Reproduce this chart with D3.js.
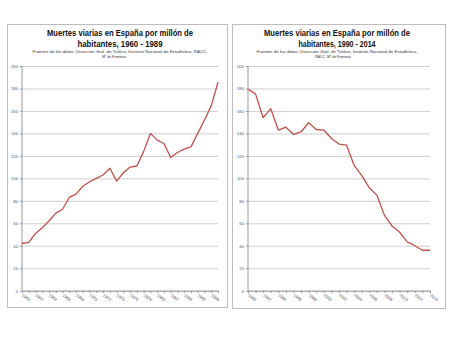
<!DOCTYPE html>
<html>
<head>
<meta charset="utf-8">
<script src="https://cdn.jsdelivr.net/npm/d3@7"></script>
<style>
  html, body { margin: 0; padding: 0; background: #fff; }
  svg { display: block; }
  text { font-family: "Liberation Sans", Arial, sans-serif; }
</style>
</head>
<body>
<svg id="chart" width="450" height="338"></svg>
<script>
// ---- data ----
const years1 = [1960,1961,1962,1963,1964,1965,1966,1967,1968,1969,1970,1971,1972,1973,1974,1975,1976,1977,1978,1979,1980,1981,1982,1983,1984,1985,1986,1987,1988,1989];
const deaths1 = [42,43,51,56,62,69,72.5,83,86,93,97,100,103,109,97.5,105,110,111,124,140,134,131,118.5,123,126,128,140,152,164.5,185.5];
const xLabels1 = ["1960","1962","1964","1966","1968","1970","1972","1974","1976","1978","1980","1982","1984","1986","1988"];

const years2 = [1990,1991,1992,1993,1994,1995,1996,1997,1998,1999,2000,2001,2002,2003,2004,2005,2006,2007,2008,2009,2010,2011,2012,2013,2014];
const deaths2 = [179.5,175,154,162,143,145.5,139,141.5,149.5,143.5,143,135.5,130.5,129.5,111.5,102.5,91.5,85,67,57.5,52,43.5,40,36,36];
const xLabels2 = ["1990","1992","1994","1996","1998","2000","2002","2004","2006","2008","2010","2012","2014"];

const yTicks = [0,20,40,60,80,100,120,140,160,180,200];

const titles1 = ["Muertes viarias en España por millón de", "habitantes, 1960 - 1989"];
const titles2 = ["Muertes viarias en España por millón de", "habitantes, 1990 - 2014"];
const sources1 = ["Fuentes de los datos:  Dirección Gral. de Tráfico, Instituto Nacional de Estadística, RACC,", "Mº de Fomento"];
const sources2 = ["Fuentes de los datos:  Dirección Gral. de Tráfico, Instituto Nacional de Estadística,", "RACC, Mº de Fomento"];

// ---- drawing ----
const svg = d3.select("#chart");

function drawPanel(cfg) {
  const g = svg.append("g");
  // panel border
  g.append("rect")
    .attr("x", cfg.box[0] + 0.5).attr("y", cfg.box[1] + 0.5)
    .attr("width", cfg.box[2]).attr("height", cfg.box[3])
    .attr("fill", "#fff").attr("stroke", "#bdbdbd").attr("stroke-width", 1);

  const x = d3.scalePoint().domain(cfg.years).range([cfg.x0, cfg.x1]);
  const y = d3.scaleLinear().domain([0, 200]).range([290.7, 66]);

  // titles
  cfg.titles.forEach((t, i) => {
    g.append("text")
      .attr("x", cfg.cx).attr("y", 36 + i * 10.5)
      .attr("text-anchor", "middle")
      .attr("font-size", "9.2px").attr("font-weight", "bold")
      .attr("fill", "#111")
      .attr("textLength", cfg.titleLen[i]).attr("lengthAdjust", "spacingAndGlyphs")
      .text(t);
  });
  cfg.sources.forEach((t, i) => {
    g.append("text")
      .attr("x", cfg.cx + (cfg.srcShift[i] || 0)).attr("y", 52.5 + i * 5.3)
      .attr("text-anchor", "middle")
      .attr("font-size", "4.3px")
      .attr("fill", "#333")
      .attr("textLength", cfg.srcLen[i]).attr("lengthAdjust", "spacingAndGlyphs")
      .text(t);
  });

  // gridlines
  const yAxis = d3.axisLeft(y).tickValues(yTicks).tickSize(-(cfg.x1 - cfg.x0)).tickPadding(4);
  const ya = g.append("g").attr("transform", `translate(${cfg.x0},0)`).call(yAxis);
  ya.select(".domain").remove();
  ya.selectAll(".tick line").attr("stroke", "#cfcfcf").attr("stroke-width", 1);
  ya.selectAll(".tick text").attr("font-size", "4.2px").attr("fill", "#555").attr("font-family", "Liberation Sans, Arial, sans-serif");
  // small outward ticks on y axis
  ya.selectAll(".tick").append("line").attr("x1", -2).attr("x2", 0).attr("stroke", "#999");
  // y axis line
  g.append("line").attr("x1", cfg.x0).attr("x2", cfg.x0).attr("y1", y(200)).attr("y2", y(0))
    .attr("stroke", "#999").attr("stroke-width", 1);

  // x axis
  const xAxis = d3.axisBottom(x).tickSize(2.5).tickFormat(d => cfg.xLabels.includes(String(d)) ? String(d) : "");
  const xa = g.append("g").attr("transform", `translate(0,${y(0)})`).call(xAxis);
  xa.select(".domain").attr("stroke", "#999");
  xa.selectAll(".tick line").attr("stroke", "#999");
  xa.selectAll(".tick text")
    .attr("font-size", "4.2px").attr("fill", "#555")
    .attr("font-family", "Liberation Sans, Arial, sans-serif")
    .attr("text-anchor", "start")
    .attr("y", 0).attr("dy", 0)
    .attr("transform", "translate(-1,5) rotate(38)");

  // line
  const line = d3.line().x((d, i) => x(cfg.years[i])).y(d => y(d));
  g.append("path").datum(cfg.values)
    .attr("d", line)
    .attr("fill", "none").attr("stroke", "#c0504d").attr("stroke-width", 1.3)
    .attr("stroke-linejoin", "round");
}

drawPanel({
  box: [7, 24, 220, 283],
  x0: 22, x1: 218, cx: 120,
  years: years1, values: deaths1, xLabels: xLabels1,
  titles: titles1, titleLen: [146, 85],
  sources: sources1, srcLen: [175, 24], srcShift: [0, -6]
});
drawPanel({
  box: [232, 24, 213, 284],
  x0: 248, x1: 430, cx: 337,
  years: years2, values: deaths2, xLabels: xLabels2,
  titles: titles2, titleLen: [146, 77],
  sources: sources2, srcLen: [161, 36], srcShift: [0, -4]
});
</script>
</body>
</html>
